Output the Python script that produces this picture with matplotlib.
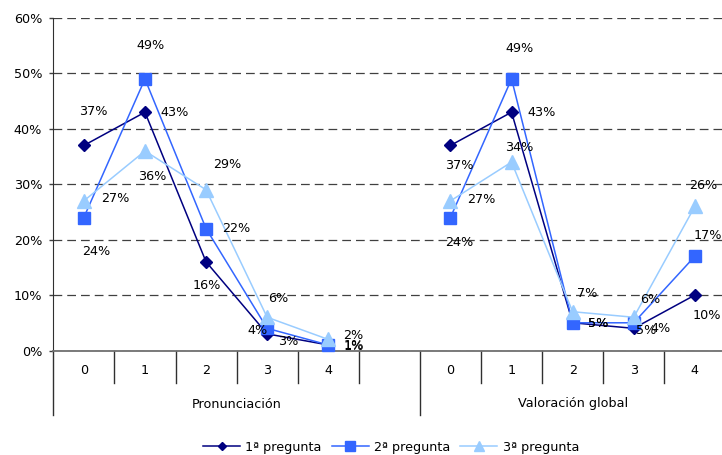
import numpy as np
import matplotlib.pyplot as plt
from matplotlib.ticker import PercentFormatter

plt.rcParams['font.family'] = ['DejaVu Sans']

# Datos (porcentajes)
grupos = ['Pronunciación', 'Valoración global']
categorias = ['0', '1', '2', '3', '4']
series = ['1ª pregunta', '2ª pregunta', '3ª pregunta']

pron_1 = [37, 43, 16, 3, 1]
pron_2 = [24, 49, 22, 4, 1]
pron_3 = [27, 36, 29, 6, 2]

valor_1 = [37, 43, 5, 4, 10]
valor_2 = [24, 49, 5, 5, 17]
valor_3 = [27, 34, 7, 6, 26]

colores = ['#000080', '#3366FF', '#99CCFF']
marcadores = ['D', 's', '^']
tam_marcador = [6, 9, 9.5]

# desplazamiento de las etiquetas (pixeles, x derecha, y abajo) por serie y punto
desp_pron = [
    [(9, -34), (30, 0), (1, 24), (21, 8), (25, 2)],
    [(12, 34), (6, -33), (30, 0), (-10, 2), (25, 1)],
    [(31, -2), (7, 25), (21, -25), (11, -19), (25, -4)],
]
desp_valor = [
    [(9, 20), (30, 0), (26, 1), (27, 0), (12, 20)],
    [(9, 25), (8, -30), (26, 1), (12, 8), (13, -21)],
    [(31, -1), (8, -15), (15, -18), (16, -18), (8, -21)],
]

FS = 9.2


def main():
    fig = plt.figure(figsize=(7.22, 4.55), dpi=100)
    W, H = 722, 455
    x0, x1, ytop, ybot = 53.3, 725.4, 18, 350.5
    ax = fig.add_axes([x0 / W, 1 - ybot / H, (x1 - x0) / W, (ybot - ytop) / H])

    # posiciones: grupo 1 en 0..4, hueco en 5, grupo 2 en 6..10
    n = len(categorias)
    xs = np.arange(2 * n + 1)
    pron = [pron_1, pron_2, pron_3]
    valor = [valor_1, valor_2, valor_3]

    for i in range(3):
        y = np.array(pron[i] + [np.nan] + valor[i], dtype=float) / 100
        ax.plot(xs, y, color=colores[i], lw=1.1, marker=marcadores[i],
                ms=tam_marcador[i], mfc=colores[i], mec=colores[i],
                label=series[i], zorder=3 + i, clip_on=False)

    for i in range(3):
        for j in range(n):
            for xx, val, d in [(j, pron[i][j], desp_pron[i][j]),
                               (j + n + 1, valor[i][j], desp_valor[i][j])]:
                ax.annotate(f'{val}%', (xx, val / 100), xytext=(d[0], -d[1]),
                            textcoords='offset pixels', ha='center', va='center',
                            fontsize=FS, color='black', zorder=10,
                            annotation_clip=False)

    ax.set_xlim(-0.5, 2 * n + 0.5)
    ax.set_ylim(0, 0.6)
    ax.set_yticks(np.arange(0, 0.61, 0.1))
    ax.yaxis.set_major_formatter(PercentFormatter(1.0, decimals=0))
    ax.tick_params(axis='y', direction='out', length=3, width=1, color='#404040',
                   labelsize=FS, pad=5)
    ax.set_xticks([])

    ax.yaxis.grid(True, color='#404040', lw=0.9, linestyle=(0, (7, 4)))
    ax.set_axisbelow(True)
    for s in ['top', 'right']:
        ax.spines[s].set_visible(False)
    ax.spines['left'].set_color('#303030')
    ax.spines['bottom'].set_color('#707070')
    ax.spines['bottom'].set_linewidth(1.3)

    # eje de categorías con dos niveles
    tr = ax.get_xaxis_transform()
    alto_px = ybot - ytop
    corto = -(383 - ybot) / alto_px
    largo = -(415 - ybot) / alto_px
    for b in np.arange(-0.5, 2 * n + 0.5, 1.0):
        fondo = largo if b in (-0.5, n + 0.5) else corto
        ax.plot([b, b], [0, fondo], transform=tr, color='#303030', lw=1,
                clip_on=False)

    y_cat = -(371 - ybot) / alto_px
    y_grp = -(404 - ybot) / alto_px
    for j, c in enumerate(categorias):
        ax.text(j, y_cat, c, transform=tr, ha='center', va='center', fontsize=FS)
        ax.text(j + n + 1, y_cat, c, transform=tr, ha='center', va='center',
                fontsize=FS)
    ax.text((-0.5 + n + 0.5) / 2, y_grp, grupos[0], transform=tr, ha='center',
            va='center', fontsize=FS)
    ax.text((n + 0.5 + 2 * n + 0.5) / 2, y_grp, grupos[1], transform=tr,
            ha='center', va='center', fontsize=FS)

    fig.legend(loc='center', bbox_to_anchor=(391 / W, 1 - 447 / H), ncol=3,
               frameon=False, fontsize=FS, handlelength=2.9, handletextpad=0.4,
               columnspacing=0.8, markerscale=0.75)

    fig.savefig('out.png', dpi=100)


if __name__ == '__main__':
    main()
